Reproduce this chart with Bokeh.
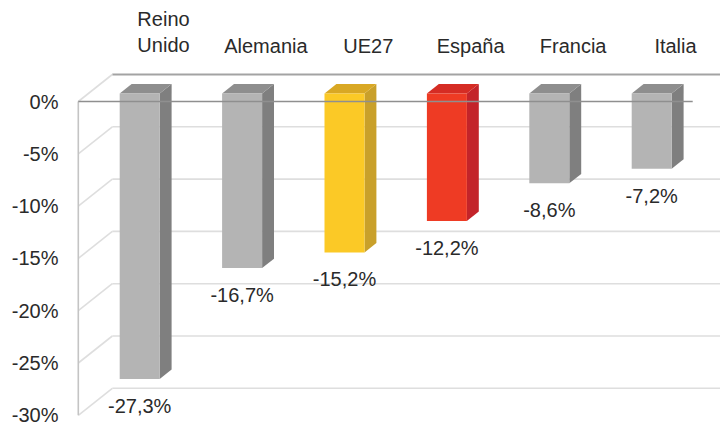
from bokeh.plotting import figure
from bokeh.models import Range1d, FixedTicker, PrintfTickFormatter
from bokeh.embed import file_html
from bokeh.resources import INLINE
from bokeh.core.properties import value

# ---------------- data ----------------
categories = ["Reino\nUnido", "Alemania", "UE27", "España", "Francia", "Italia"]
values = [-27.3, -16.7, -15.2, -12.2, -8.6, -7.2]
y_ticks = [0, -5, -10, -15, -20, -25, -30]

# ---------------- styles ----------------
bar_kind = ["grey", "grey", "yellow", "red", "grey", "grey"]
FRONT = {"grey": "#b4b4b4", "yellow": "#fbc926", "red": "#ee3b24"}
SIDE = {"grey": "#7f7f7f", "yellow": "#c9a02a", "red": "#c3242a"}
TOP = {"grey": "#8e8e8e", "yellow": "#d9a824", "red": "#d52c24"}
FONT = "Liberation Sans"
TXT = "#2a2a2a"

# ---------------- geometry (pixel constants -> data units) ----------------
W, H = 720, 425
LEFT = 72
UNIT = 102.4            # px per category
SCALE = 10.46           # px per percent
ZERO_PX = 101           # px from top of canvas where front-plane 0% sits
X0 = (LEFT - 129) / UNIT
X1 = X0 + (W - LEFT) / UNIT
Y1 = ZERO_PX / SCALE
Y0 = Y1 - H / SCALE
DXD = 34 / UNIT         # depth offset in x units
DYD = 27 / SCALE        # depth offset in y units
Z0, Z1 = 0.3, 0.65      # bar front / back depth
HW = 20 / UNIT          # half bar width
n = len(values)
XL, XR = -0.5, n - 0.5

p = figure(width=W, height=H, output_backend="svg", toolbar_location=None,
           x_axis_type=None, y_axis_location="left",
           x_range=Range1d(X0, X1), y_range=Range1d(Y0, Y1),
           min_border_left=LEFT, min_border_right=0, min_border_top=0,
           min_border_bottom=0)
p.outline_line_color = None
p.grid.visible = False
p.background_fill_color = "white"

ax = p.yaxis[0]
ax.ticker = FixedTicker(ticks=y_ticks)
ax.formatter = PrintfTickFormatter(format="%d%%")
ax.axis_line_color = None
ax.major_tick_line_color = None
ax.minor_tick_line_color = None
ax.major_tick_out = 0
ax.major_tick_in = 0
ax.major_label_standoff = 14
ax.major_label_text_font_size = "20px"
ax.major_label_text_font = FONT
ax.major_label_text_color = TXT

# ---------------- walls ----------------
for t in y_ticks:
    col = "#a3a3a3" if t == 0 else "#dedede"
    lw = 2 if t == 0 else 1.6
    # back wall line
    p.line([XL + DXD, X1 + 1], [t + DYD, t + DYD], line_color=col, line_width=lw)
    # left wall diagonal
    p.line([XL, XL + DXD], [t, t + DYD], line_color="#dedede", line_width=1.6)
# left front vertical edge
p.line([XL, XL], [0, min(y_ticks)], line_color="#c4c4c4", line_width=1.6)

# ---------------- bars ----------------
fx, fy, sx, sy, tx, ty = [], [], [], [], [], []
for i, v in enumerate(values):
    a0, a1 = Z0 * DXD, Z1 * DXD
    b0, b1 = Z0 * DYD, Z1 * DYD
    l, r = i - HW, i + HW
    fx.append([l + a0, r + a0, r + a0, l + a0])
    fy.append([b0, b0, v + b0, v + b0])
    sx.append([r + a0, r + a1, r + a1, r + a0])
    sy.append([b0, b1, v + b1, v + b0])
    tx.append([l + a0, r + a0, r + a1, l + a1])
    ty.append([b0, b0, b1, b1])

p.patches(sx, sy, fill_color=[SIDE[k] for k in bar_kind], line_color=None)
p.patches(tx, ty, fill_color=[TOP[k] for k in bar_kind], line_color=None)
p.patches(fx, fy, fill_color=[FRONT[k] for k in bar_kind], line_color=None)

# front 0% line (drawn over the bars)
p.line([XL, XR], [0, 0], line_color="#8f8f8f", line_width=1.6)

# ---------------- texts ----------------
p.text(x=[i + DXD for i in range(n)], y=[(ZERO_PX - 56) / SCALE] * n,
       text=categories, text_align="center", text_baseline="bottom",
       text_font=value(FONT), text_font_size="20px", text_color=TXT,
       text_line_height=1.2)

labels = [f"{v:.1f}".replace(".", ",") + "%" for v in values]
p.text(x=[i + Z0 * DXD for i in range(n)],
       y=[v + Z0 * DYD - 27 / SCALE for v in values],
       text=labels, text_align="center", text_baseline="middle",
       text_font=value(FONT), text_font_size="20px", text_color=TXT)

open("out.html", "w").write(file_html(p, INLINE))
